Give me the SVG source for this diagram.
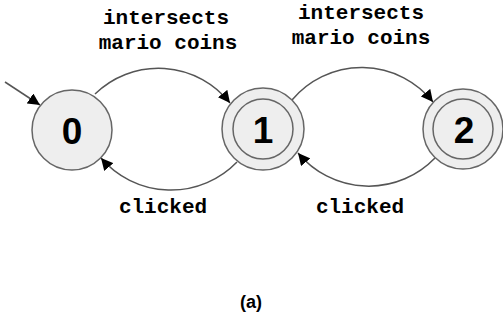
<svg xmlns="http://www.w3.org/2000/svg" width="503" height="324" viewBox="0 0 503 324">
  <style>
    .state { fill: #eeeeee; stroke: #666666; stroke-width: 1.5; }
    .num { font-family: "Liberation Sans", Arial, sans-serif; font-weight: bold; font-size: 37px; fill: #000; text-anchor: middle; }
    .edge { fill: none; stroke: #555555; stroke-width: 1.5; marker-end: url(#arrow); }
    .lbl { font-family: "Liberation Mono", "Courier New", monospace; font-weight: bold; font-size: 21px; fill: #000; text-anchor: middle; }
    .cap { font-family: "Liberation Sans", Arial, sans-serif; font-weight: bold; font-size: 18px; fill: #000; text-anchor: middle; }
  </style>
  <defs>
    <marker id="arrow" viewBox="0 0 10 10" refX="10" refY="5" markerWidth="12" markerHeight="12" markerUnits="userSpaceOnUse" orient="auto">
      <path d="M0,0 L10,5 L0,10 Z" fill="#000"/>
    </marker>
  </defs>

  <rect width="503" height="324" fill="#ffffff"/>

  <g id="connectors">
    <path id="start" class="edge" d="M5,82 L40,105"/>
    <path id="e0to1" class="edge" d="M95,94 A91,91 0 0 1 230,103"/>
    <path id="e1to0" class="edge" d="M237,162 A92,92 0 0 1 101,158"/>
    <path id="e1to2" class="edge" d="M292,100 A91,91 0 0 1 433,102"/>
    <path id="e2to1" class="edge" d="M435,158 A92,92 0 0 1 298,153"/>
  </g>

  <g id="labels">
    <text class="lbl" x="166" y="24">intersects</text>
    <text class="lbl" x="168" y="49">mario coins</text>
    <text class="lbl" x="361" y="19">intersects</text>
    <text class="lbl" x="361" y="44">mario coins</text>
    <text class="lbl" x="163" y="213">clicked</text>
    <text class="lbl" x="360" y="213">clicked</text>
  </g>

  <g id="state0">
    <circle class="state" cx="72" cy="130" r="40"/>
    <text class="num" x="72" y="144">0</text>
  </g>
  <g id="state1">
    <circle class="state" cx="263" cy="129" r="41"/>
    <circle class="state" cx="263" cy="129" r="30"/>
    <text class="num" x="263" y="143">1</text>
  </g>
  <g id="state2">
    <circle class="state" cx="463" cy="129" r="40"/>
    <circle class="state" cx="463" cy="129" r="30"/>
    <text class="num" x="464" y="143">2</text>
  </g>

  <text class="cap" x="251" y="308">(a)</text>
</svg>
